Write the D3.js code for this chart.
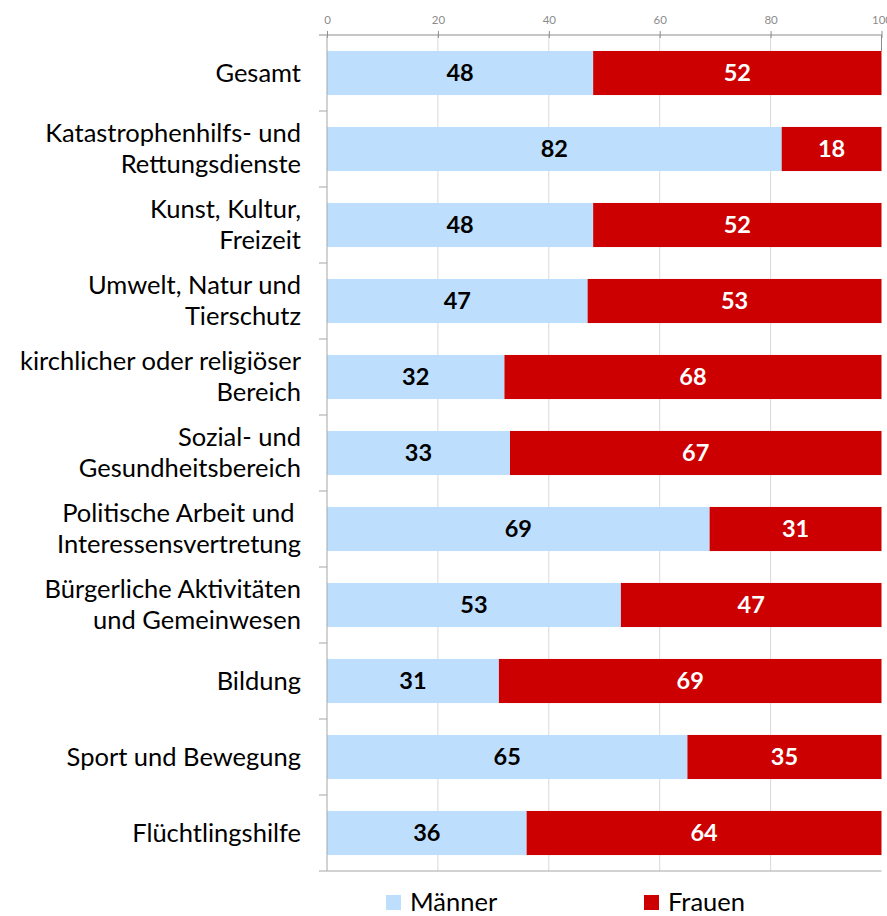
<!DOCTYPE html>
<html><head><meta charset="utf-8">
<script src="https://cdn.jsdelivr.net/npm/d3@7"></script>
<style>body{margin:0;background:#fff}svg{display:block}</style>
</head><body>
<svg id="chart" width="887" height="916"></svg>
<script>
const categories = [
  "Gesamt",
  "Katastrophenhilfs- und\nRettungsdienste",
  "Kunst, Kultur,\nFreizeit",
  "Umwelt, Natur und\nTierschutz",
  "kirchlicher oder religiöser\nBereich",
  "Sozial- und\nGesundheitsbereich",
  "Politische Arbeit und \nInteressensvertretung",
  "Bürgerliche Aktivitäten\nund Gemeinwesen",
  "Bildung",
  "Sport und Bewegung",
  "Flüchtlingshilfe"
];
const maenner = [48, 82, 48, 47, 32, 33, 69, 53, 31, 65, 36];
const frauen  = [52, 18, 52, 53, 68, 67, 31, 47, 69, 35, 64];
const xTicks = [0, 20, 40, 60, 80, 100];
const seriesNames = ["Männer", "Frauen"];
const colors = ["#BDDEFD", "#CC0000"];
const labelColors = ["#000000", "#FFFFFF"];

(function() {
const svg = d3.select("#chart");
const pl = 327, pr = 881.5, pt = 35, pb = 871;
const font = "Lato, 'Open Sans', sans-serif";

const x = d3.scaleLinear().domain([0, 100]).range([pl, pr]);
const y = d3.scaleBand().domain(categories).range([pt, pb]).paddingInner(0.42).paddingOuter(0.21);

// gridlines
svg.append("g").selectAll("line").data(xTicks.filter(t => t > 0 && t < 100)).join("line")
  .attr("x1", d => x(d)).attr("x2", d => x(d)).attr("y1", pt).attr("y2", pb)
  .attr("stroke", "#D9D9D9").attr("stroke-width", 1);

// stacked data
const rows = categories.map((c, i) => ({cat: c, vals: [maenner[i], frauen[i]]}));
const stack = rows.map(r => {
  let acc = 0;
  return r.vals.map((v, k) => { const s = {cat: r.cat, k, v, x0: acc, x1: acc + v}; acc += v; return s; });
}).flat();

svg.append("g").selectAll("rect").data(stack).join("rect")
  .attr("x", d => x(d.x0)).attr("width", d => x(d.x1) - x(d.x0))
  .attr("y", d => y(d.cat)).attr("height", y.bandwidth())
  .attr("fill", d => colors[d.k]);

svg.append("g").selectAll("text").data(stack).join("text")
  .attr("x", d => (x(d.x0) + x(d.x1)) / 2)
  .attr("y", d => y(d.cat) + y.bandwidth() / 2)
  .attr("dy", "0.36em")
  .attr("text-anchor", "middle")
  .attr("font-family", font).attr("font-weight", "bold").attr("font-size", 23.5)
  .attr("fill", d => labelColors[d.k])
  .text(d => d.v);

// top axis
const xAxis = d3.axisTop(x).tickValues(xTicks).tickSize(4).tickSizeOuter(0);
const gx = svg.append("g").attr("transform", `translate(0,${pt})`).call(xAxis);
gx.select(".domain").remove();
gx.selectAll(".tick line").attr("stroke", "#8C8C8C").attr("y2", -4).attr("y1", 3);
gx.selectAll(".tick text").attr("fill", "#8C8C8C").attr("font-family", font).attr("font-size", 11.5).attr("y", -11);
svg.append("line").attr("x1", pl - 8).attr("x2", pr).attr("y1", pt).attr("y2", pt).attr("stroke", "#8C8C8C");
svg.append("line").attr("x1", pl - 8).attr("x2", pr).attr("y1", pb).attr("y2", pb).attr("stroke", "#A6A6A6");
svg.append("line").attr("x1", x(100)).attr("x2", x(100)).attr("y1", pt).attr("y2", pt + 16).attr("stroke", "#8C8C8C");

// left axis
const yAxis = d3.axisLeft(y).tickSize(0).tickFormat("");
const gy = svg.append("g").attr("transform", `translate(${pl},0)`).call(yAxis);
gy.select(".domain").attr("stroke", "#A6A6A6").attr("d", `M0,${pt}V${pb}`);
const step = y.step();
svg.append("g").selectAll("line").data(categories.slice(1)).join("line")
  .attr("x1", pl - 8).attr("x2", pl)
  .attr("y1", d => y(d) - y.paddingInner() * step / 2 ).attr("y2", d => y(d) - y.paddingInner() * step / 2)
  .attr("stroke", "#A6A6A6");

// category labels
const lab = svg.append("g").selectAll("text").data(categories).join("text")
  .attr("text-anchor", "end").attr("font-family", font).attr("font-size", 25.5).attr("fill", "#000")
  .style("white-space", "pre")
  .attr("transform", d => `translate(301,${y(d) + y.bandwidth() / 2})`);
lab.each(function(d) {
  const lines = d.split("\n");
  const lh = 31;
  const t = d3.select(this);
  lines.forEach((ln, i) => {
    t.append("tspan").attr("x", 0).attr("y", (i - (lines.length - 1) / 2) * lh).attr("dy", "0.35em").text(ln);
  });
});

// legend
const legX = [386, 644];
const leg = svg.append("g").selectAll("g").data(seriesNames).join("g")
  .attr("transform", (d, i) => `translate(${legX[i]},895)`);
leg.append("rect").attr("width", 15).attr("height", 15).attr("fill", (d, i) => colors[i]);
leg.append("text").attr("x", 24).attr("y", 7.5).attr("dy", "0.34em")
  .attr("font-family", font).attr("font-size", 25.5).attr("fill", "#000").text(d => d);
})();
</script>
</body></html>
